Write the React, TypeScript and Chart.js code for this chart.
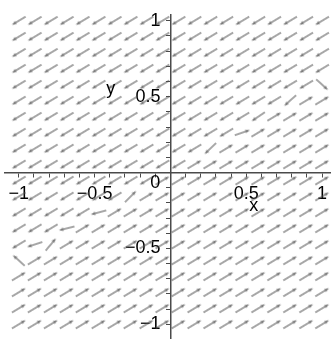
import { useEffect, useRef } from "react";
import { Chart, registerables } from "chart.js";

Chart.register(...registerables);

// Sample grid of the direction field (20 x 20)
const xGrid = [
  -1, -0.895, -0.789, -0.684, -0.579, -0.474, -0.368, -0.263, -0.158, -0.053,
  0.053, 0.158, 0.263, 0.368, 0.474, 0.579, 0.684, 0.789, 0.895, 1,
];
const yGrid = [
  1, 0.895, 0.789, 0.684, 0.579, 0.474, 0.368, 0.263, 0.158, 0.053,
  -0.053, -0.158, -0.263, -0.368, -0.474, -0.579, -0.684, -0.789, -0.895, -1,
];

// Arrow direction (degrees, counter-clockwise from +x) on either side of the separatrix
const upperAngle = 211;
const lowerAngle = 31;

// For each column: first row index (from the top) that belongs to the lower regime
const flipRow = [15, 14, 14, 13, 13, 12, 12, 11, 11, 10, 10, 9, 8, 8, 7, 6, 6, 5, 5, 4];

// Arrows along the separatrix: [column, row, angle in degrees]
const separatrixArrows: [number, number, number][] = [
  [19, 4, -42],
  [17, 5, 222],
  [15, 6, 214],
  [14, 7, 19],
  [12, 8, 224],
  [7, 11, 45],
  [5, 12, 195],
  [3, 13, 194],
  [2, 14, 50],
  [1, 14, 198],
  [0, 15, 138],
];

// Axis tick labels
const tickValues = [-1, -0.5, 0.5, 1];
const tickLabels = ["\u22121", "\u22120.5", "0.5", "1"];

// Free-standing labels: text and baseline position in data units
const freeLabels = [
  { text: "0", x: -0.101, y: -0.105 },
  { text: "x", x: 0.55, y: -0.252 },
  { text: "y", x: -0.394, y: 0.517 },
];

const X_MIN = -1.091;
const X_MAX = 1.052;
const Y_MIN = -1.09;
const Y_MAX = 1.038;

const FONT = "'Liberation Sans', Arial, sans-serif";
const AXIS_COLOR = "#4a4a4a";

function makeArrowGlyph(): HTMLCanvasElement {
  const c = document.createElement("canvas");
  c.width = 18;
  c.height = 8;
  const g = c.getContext("2d")!;
  const cy = 4;
  g.strokeStyle = "#505050";
  g.lineWidth = 1;
  g.beginPath();
  g.moveTo(1, cy);
  g.lineTo(13.5, cy);
  g.stroke();
  g.fillStyle = "#7c7c7c";
  g.beginPath();
  g.moveTo(17, cy);
  g.lineTo(12.5, cy - 1.8);
  g.lineTo(12.5, cy + 1.8);
  g.closePath();
  g.fill();
  return c;
}

function tickLabel(v: number): string {
  const i = tickValues.findIndex((t) => Math.abs(t - v) < 1e-6);
  return i >= 0 ? tickLabels[i] : "";
}

const freeLabelPlugin = {
  id: "freeLabels",
  afterDraw(chart: Chart) {
    const { ctx, scales } = chart;
    ctx.save();
    ctx.font = `18px ${FONT}`;
    ctx.fillStyle = "#000";
    ctx.textAlign = "center";
    ctx.textBaseline = "alphabetic";
    for (const l of freeLabels) {
      ctx.fillText(l.text, scales.x.getPixelForValue(l.x), scales.y.getPixelForValue(l.y));
    }
    ctx.restore();
  },
};

export default function App() {
  const ref = useRef<HTMLCanvasElement>(null);

  useEffect(() => {
    const canvas = ref.current;
    if (!canvas) return;
    const glyph = makeArrowGlyph();

    const points: { x: number; y: number }[] = [];
    const rotations: number[] = [];
    for (let r = 0; r < yGrid.length; r++) {
      for (let c = 0; c < xGrid.length; c++) {
        let angle = r < flipRow[c] ? upperAngle : lowerAngle;
        const special = separatrixArrows.find((s) => s[0] === c && s[1] === r);
        if (special) angle = special[2];
        points.push({ x: xGrid[c], y: yGrid[r] });
        rotations.push(-angle);
      }
    }

    // axes cross at the origin and take no room in the layout
    const noPadding = (s: any) => {
      s.paddingLeft = 0;
      s.paddingRight = 0;
      s.paddingTop = 0;
      s.paddingBottom = 0;
    };

    const axisCommon = {
      type: "linear" as const,
      grid: {
        drawOnChartArea: false,
        drawTicks: true,
        tickLength: 4,
        color: AXIS_COLOR,
        lineWidth: 1,
      },
      border: { display: true, color: AXIS_COLOR, width: 1.5 },
      afterFit: noPadding,
      z: 1,
    };

    const chart = new Chart(canvas, {
      type: "scatter",
      data: {
        datasets: [
          {
            data: points,
            pointStyle: glyph,
            pointRotation: rotations,
            pointRadius: 4,
            pointHoverRadius: 4,
            clip: false,
          } as any,
        ],
      },
      options: {
        animation: false,
        responsive: false,
        events: [],
        layout: { padding: { left: 5, right: 1, top: 15, bottom: 3 } },
        plugins: { legend: { display: false }, tooltip: { enabled: false } },
        scales: {
          x: {
            ...axisCommon,
            min: X_MIN,
            max: X_MAX,
            position: { y: 0 },
            ticks: {
              stepSize: 0.1,
              includeBounds: false,
              autoSkip: false,
              maxRotation: 0,
              padding: 7,
              color: "#000",
              font: { family: FONT, size: 18 },
              callback: (v: any) => tickLabel(Number(v)),
            },
          },
          y: {
            ...axisCommon,
            min: Y_MIN,
            max: Y_MAX,
            position: { x: 0 },
            ticks: {
              stepSize: 0.1,
              includeBounds: false,
              autoSkip: false,
              padding: 0,
              color: "#000",
              font: { family: FONT, size: 18 },
              // trailing spaces keep the right-aligned labels clear of the axis
              callback: (v: any) => {
                const t = tickLabel(Number(v));
                return t ? t + "  " : "";
              },
            },
          },
        } as any,
      },
      plugins: [freeLabelPlugin],
    });

    return () => chart.destroy();
  }, []);

  return (
    <div style={{ position: "fixed", left: 0, top: 0, width: 335, height: 343, background: "#fff" }}>
      <canvas ref={ref} width={335} height={343} />
    </div>
  );
}
